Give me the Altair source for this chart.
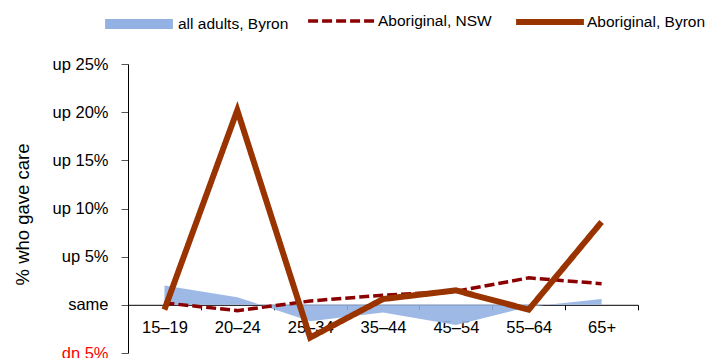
import altair as alt
import pandas as pd

ages = ["15–19", "20–24", "25–34", "35–44", "45–54", "55–64", "65+"]
all_adults_byron = [2.0, 0.8, -1.7, -0.8, -2.1, -0.2, 0.6]
aboriginal_nsw = [0.2, -0.6, 0.4, 1.0, 1.4, 2.8, 2.2]
aboriginal_byron = [-0.5, 20.2, -3.4, 0.6, 1.5, -0.5, 8.6]

series_names = ["all adults, Byron", "Aboriginal, NSW", "Aboriginal, Byron"]
y_ticks = [-5, 0, 5, 10, 15, 20, 25]

area_df = pd.DataFrame({"age": ages, "value": all_adults_byron})
line_df = pd.DataFrame(
    {
        "age": ages * 2,
        "value": aboriginal_nsw + aboriginal_byron,
        "series": [series_names[1]] * len(ages) + [series_names[2]] * len(ages),
    }
)

FONT = "Liberation Sans"

x_enc = alt.X(
    "age:N",
    sort=ages,
    bandPosition=0.5,
    scale=alt.Scale(type="band", domain=ages, paddingInner=0, paddingOuter=0),
    axis=alt.Axis(
        title=None,
        offset=-48.2,
        tickBand="extent",
        domainColor="#000000",
        tickColor="#000000",
        tickSize=5,
        labelPadding=10,
        labelFontSize=16.5,
        labelColor="#000000",
        labelAngle=0,
    ),
)

y_scale = alt.Scale(domain=[-5, 25], nice=False, zero=False)
y_axis = alt.Axis(
    title="% who gave care",
    titleFontSize=18.5,
    titleFontWeight="normal",
    titleColor="#000000",
    titlePadding=20,
    titleY=150,
    values=y_ticks,
    labelExpr="datum.value == 0 ? 'same' : (datum.value > 0 ? 'up ' + datum.value + '%' : 'dn ' + abs(datum.value) + '%')",
    labelColor=alt.condition("datum.value < 0", alt.value("#ff0000"), alt.value("#000000")),
    labelFontSize=16.5,
    labelPadding=13,
    tickSize=7,
    tickColor="#555555",
    domainColor="#000000",
    grid=False,
)

area = (
    alt.Chart(area_df)
    .mark_area(color="#93b1e2", opacity=0.9)
    .encode(
        x=x_enc,
        y=alt.Y("value:Q", scale=y_scale, axis=y_axis),
        y2=alt.datum(0),
    )
)

lines = (
    alt.Chart(line_df)
    .mark_line(strokeCap="butt", strokeJoin="miter")
    .encode(
        x=x_enc,
        y=alt.Y("value:Q", scale=y_scale, axis=y_axis),
        color=alt.Color(
            "series:N",
            scale=alt.Scale(domain=series_names, range=["#93b1e2", "#8b0000", "#993300"]),
            legend=alt.Legend(
                title=None,
                orient="none",
                direction="horizontal",
                legendX=-28,
                legendY=-79,
                symbolType="stroke",
                symbolSize=4600,
                labelFontSize=15.5,
                labelColor="#000000",
                columnPadding=12,
                gridAlign="none",
                labelOffset=0,
                labelLimit=200,
                symbolOpacity=1,
            ),
        ),
        strokeDash=alt.StrokeDash(
            "series:N",
            scale=alt.Scale(type="ordinal", domain=series_names, range=[[1, 0], [10, 4], [1, 0]]),
            legend=alt.Legend(title=None),
        ),
        strokeWidth=alt.StrokeWidth(
            "series:N",
            scale=alt.Scale(type="ordinal", domain=series_names, range=[10, 3.5, 6]),
            legend=alt.Legend(title=None),
        ),
        order=alt.Order("series:N", sort="ascending"),
    )
)

chart = (
    alt.layer(area, lines)
    .properties(
        width=510,
        height=289,
        autosize=alt.AutoSizeParams(type="none"),
        padding={"left": 120, "top": 56, "right": 68, "bottom": 5},
    )
    .configure(font=FONT)
    .configure_view(stroke=None)
    .configure_axis(labelFont=FONT, titleFont=FONT)
    .configure_legend(labelFont=FONT)
)

chart.save("out.html", embed_options={"renderer": "svg", "actions": False})
